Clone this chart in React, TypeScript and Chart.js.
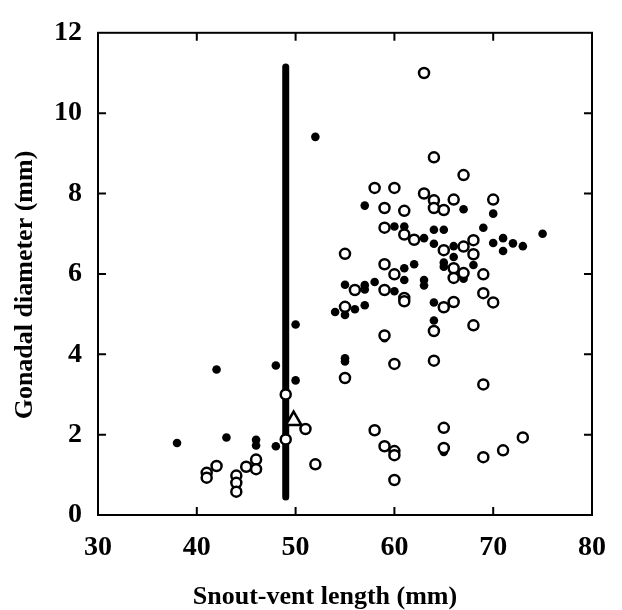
import React, { useEffect, useRef } from "react";
import { Chart, registerables } from "chart.js";

Chart.register(...registerables);

// Filled circles
const filledX = [38, 42, 43, 46, 46, 48, 48, 50, 50, 52, 54, 55, 55, 55, 55, 56, 57, 57, 57, 57, 58, 59, 60, 60, 61, 61, 61, 62, 63, 63, 63, 64, 64, 64, 64, 65, 65, 65, 65, 66, 66, 67, 67, 68, 69, 70, 70, 71, 71, 72, 73, 75];
const filledY = [1.79, 3.62, 1.93, 1.87, 1.73, 3.72, 1.71, 4.74, 3.35, 9.41, 5.05, 4.98, 5.73, 3.9, 3.82, 5.12, 5.22, 5.72, 5.61, 7.7, 5.8, 4.4, 5.57, 7.18, 7.18, 6.14, 5.85, 6.24, 6.89, 5.85, 5.71, 7.1, 6.75, 5.29, 4.84, 7.1, 6.28, 6.18, 1.57, 6.69, 6.42, 7.61, 5.88, 6.22, 7.15, 7.5, 6.77, 6.89, 6.57, 6.76, 6.69, 7.0];

// Open circles
const openX = [41, 41, 42, 44, 44, 44, 45, 46, 46, 49, 49, 51, 52, 55, 55, 55, 56, 58, 58, 59, 59, 59, 59, 59, 59, 60, 60, 60, 60, 60, 60, 61, 61, 61, 61, 62, 63, 63, 64, 64, 64, 64, 64, 65, 65, 65, 65, 65, 66, 66, 66, 66, 67, 67, 67, 68, 68, 68, 69, 69, 69, 69, 70, 70, 71, 73];
const openY = [1.05, 0.93, 1.22, 0.98, 0.8, 0.58, 1.2, 1.38, 1.14, 3.0, 1.88, 2.14, 1.26, 6.5, 5.18, 3.41, 5.6, 8.14, 2.11, 7.64, 7.15, 6.24, 5.6, 4.47, 1.71, 8.14, 5.99, 3.76, 1.59, 1.49, 0.87, 7.57, 6.98, 5.4, 5.32, 6.85, 11.0, 8.0, 8.9, 7.83, 7.64, 4.58, 3.84, 7.59, 6.59, 5.17, 2.17, 1.67, 7.85, 6.14, 5.9, 5.3, 8.46, 6.68, 6.02, 6.84, 6.49, 4.72, 5.99, 5.52, 3.25, 1.44, 7.85, 5.29, 1.61, 1.93];

// Open triangle
const triangleX = [49.8];
const triangleY = [2.35];

// Vertical bar
const barX = [49, 49];
const barY = [0.45, 11.15];

const xTicks = [30, 40, 50, 60, 70, 80];
const yTicks = [0, 2, 4, 6, 8, 10, 12];
const xTitle = "Snout-vent length (mm)";
const yTitle = "Gonadal diameter (mm)";

const FONT = "'Liberation Serif', 'Times New Roman', serif";

const toPts = (xs: number[], ys: number[]) => xs.map((x, i) => ({ x, y: ys[i] }));

const framePlugin = {
  id: "frameTicks",
  afterDraw(chart: any) {
    const { ctx, chartArea } = chart;
    const xs = chart.scales.x;
    const ys = chart.scales.y;
    const { left, right, top, bottom } = chartArea;
    ctx.save();
    ctx.strokeStyle = "#000";
    ctx.lineWidth = 2;
    ctx.strokeRect(left, top, right - left, bottom - top);
    const len = 8;
    ctx.beginPath();
    xTicks.slice(1, -1).forEach((v) => {
      const p = xs.getPixelForValue(v);
      ctx.moveTo(p, bottom);
      ctx.lineTo(p, bottom - len);
      ctx.moveTo(p, top);
      ctx.lineTo(p, top + len);
    });
    yTicks.slice(1, -1).forEach((v) => {
      const p = ys.getPixelForValue(v);
      ctx.moveTo(left, p);
      ctx.lineTo(left + len, p);
      ctx.moveTo(right, p);
      ctx.lineTo(right - len, p);
    });
    ctx.stroke();
    // axis titles
    ctx.fillStyle = "#000";
    ctx.font = `bold 26px ${FONT}`;
    ctx.textAlign = "center";
    ctx.textBaseline = "middle";
    ctx.fillText(xTitle, 325, 597);
    ctx.translate(25, 285);
    ctx.rotate(-Math.PI / 2);
    ctx.fillText(yTitle, 0, 0);
    ctx.restore();
  },
};

export default function App() {
  const ref = useRef<HTMLCanvasElement>(null);
  useEffect(() => {
    if (!ref.current) return;
    const chart = new Chart(ref.current, {
      type: "scatter",
      data: {
        datasets: [
          {
            label: "open",
            data: toPts(openX, openY),
            pointStyle: "circle",
            pointRadius: 5,
            pointBackgroundColor: "#fff",
            pointBorderColor: "#000",
            pointBorderWidth: 2.5,
          },
          {
            label: "triangle",
            data: toPts(triangleX, triangleY),
            pointStyle: "triangle",
            pointRadius: 9,
            pointBackgroundColor: "#fff",
            pointBorderColor: "#000",
            pointBorderWidth: 2.5,
          },
          {
            label: "filled",
            data: toPts(filledX, filledY),
            pointStyle: "circle",
            pointRadius: 4.3,
            pointBackgroundColor: "#000",
            pointBorderColor: "#000",
            pointBorderWidth: 0,
          },
          {
            label: "bar",
            type: "line",
            data: toPts(barX, barY),
            showLine: true,
            borderColor: "#000",
            borderWidth: 7,
            borderCapStyle: "round",
            pointRadius: 0,
          } as any,
        ],
      },
      options: {
        animation: false,
        responsive: false,
        layout: { padding: { left: 0, top: 23, right: 29, bottom: 0 } },
        plugins: { legend: { display: false }, tooltip: { enabled: false } },
        scales: {
          x: {
            type: "linear",
            min: 30,
            max: 80,
            afterFit: (s: any) => {
              s.height = 95;
            },
            afterBuildTicks: (s: any) => {
              s.ticks = xTicks.map((v) => ({ value: v }));
            },
            grid: { display: false, drawTicks: false },
            border: { display: false },
            ticks: {
              padding: 16,
              color: "#000",
              font: { family: FONT, size: 28, weight: "bold" },
            },
          },
          y: {
            type: "linear",
            min: 0,
            max: 12,
            afterFit: (s: any) => {
              s.width = 98;
            },
            afterBuildTicks: (s: any) => {
              s.ticks = yTicks.map((v) => ({ value: v }));
            },
            grid: { display: false, drawTicks: false },
            border: { display: false },
            ticks: {
              padding: 16,
              color: "#000",
              font: { family: FONT, size: 28, weight: "bold" },
            },
          },
        },
      },
      plugins: [framePlugin],
    });
    return () => chart.destroy();
  }, []);
  return (
    <div style={{ position: "fixed", left: 0, top: 0, width: 622, height: 610, background: "#fff" }}>
      <canvas ref={ref} width={622} height={610} />
    </div>
  );
}
